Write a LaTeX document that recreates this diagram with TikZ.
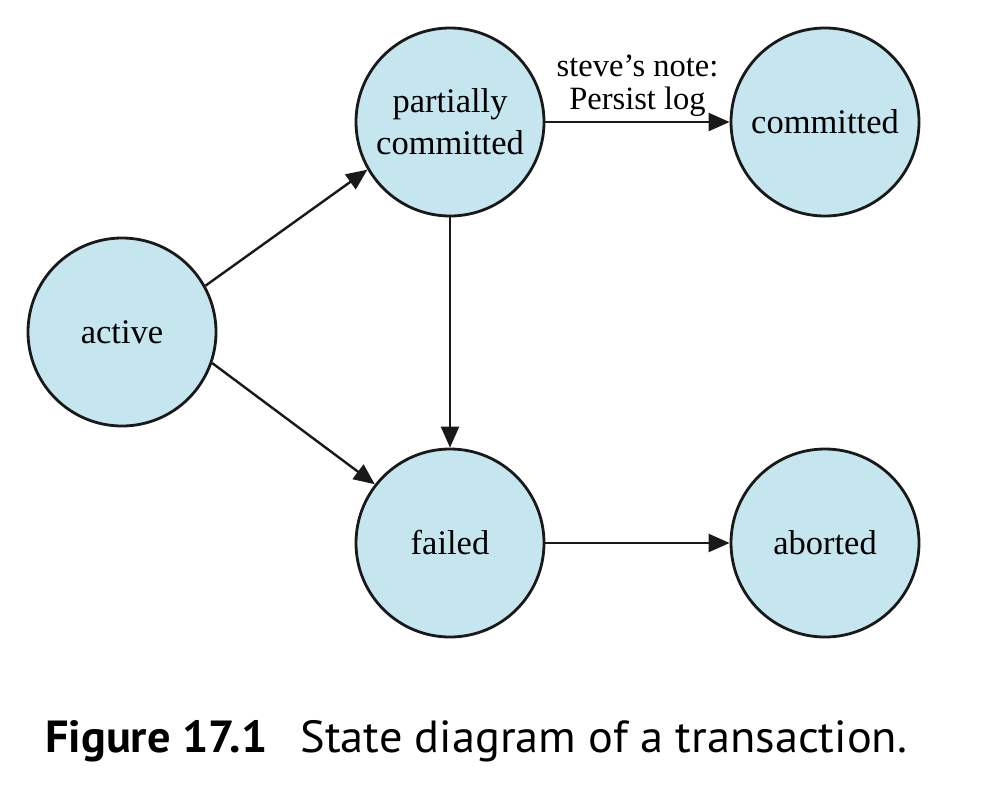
\documentclass[tikz,border=0pt]{standalone}
\usepackage{fontspec}
\setmainfont{Liberation Serif}
\newfontfamily\capfont{PT Sans}
\usetikzlibrary{arrows.meta}
\definecolor{statefill}{RGB}{198,230,239}
\begin{document}
\begin{tikzpicture}[x=1pt,y=-1pt,
  state/.style={circle,draw=black!90,line width=2.8pt,fill=statefill,minimum size=188pt,inner sep=0pt,align=center,font=\fontsize{34.5}{42}\selectfont},
  conn/.style={line width=2.4pt,draw=black!90,-{Triangle[length=21pt,width=18pt]}}]
\useasboundingbox (0,0) rectangle (992,784);
\node[state] (active) at (122,332) {active};
\node[state] (pc) at (450,122) {partially\\committed};
\node[state] (committed) at (825,122) {committed};
\node[state] (failed) at (450,543) {failed};
\node[state] (aborted) at (825,543) {aborted};
\draw[conn] (active.29) -- (pc.210);
\draw[conn] (active.-19) -- (failed.142);
\draw[conn] (pc) -- (failed);
\draw[conn] (pc) -- node[above=1pt,align=center,font=\fontsize{32.5}{33}\selectfont] (note) {steve’s note:\\Persist log} (committed);
\draw[conn] (failed) -- (aborted);
\node[anchor=base west,inner sep=0pt,font=\capfont\fontsize{45}{50}\selectfont] (caption) at (45,752) {\scalebox{1.03}[1]{\textbf{Figure 17.1}\hspace{0.45em} State diagram of a transaction.}};
\end{tikzpicture}
\end{document}
